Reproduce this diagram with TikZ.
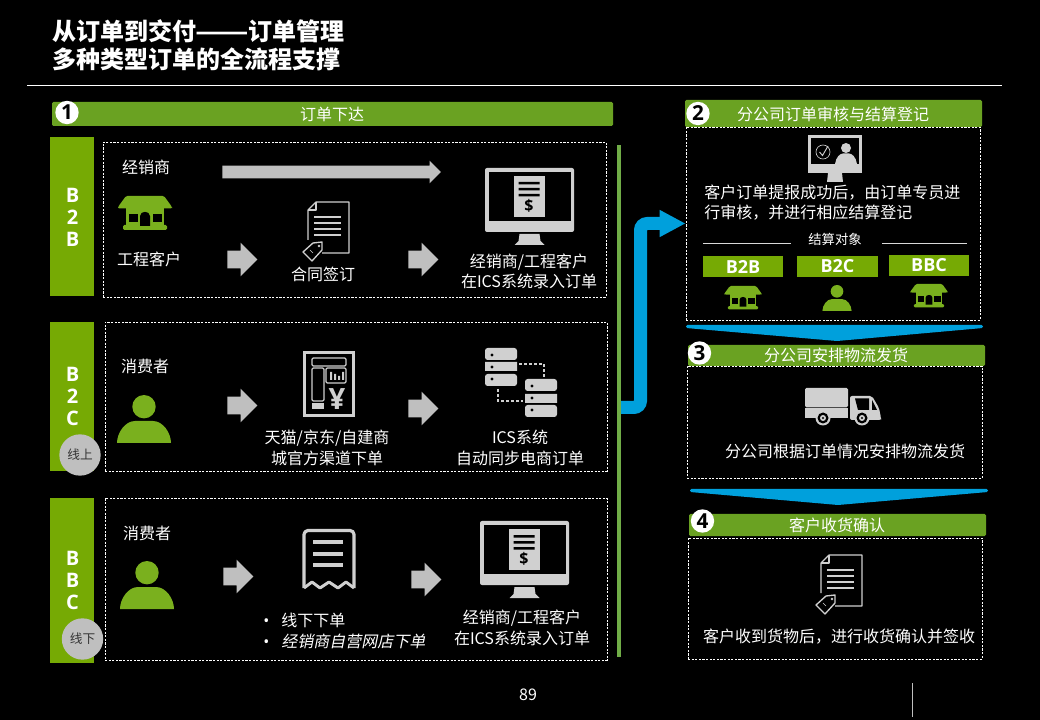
\documentclass[tikz,border=0pt]{standalone}
\usepackage{fontspec}
\setmainfont{Noto Sans CJK SC}
\newfontfamily\cjkit[FakeSlant=0.2]{Noto Sans CJK SC}
\newfontfamily\latbold{Open Sans}[BoldFont={* Bold}]
\usetikzlibrary{arrows.meta,shapes.arrows}
\definecolor{hdrgreen}{RGB}{106,162,34}
\definecolor{sidegreen}{RGB}{118,170,4}
\definecolor{icongreen}{RGB}{122,176,30}
\definecolor{railgreen}{RGB}{112,173,71}
\definecolor{flowblue}{RGB}{0,160,220}
\definecolor{arrgrey}{RGB}{191,191,191}
\definecolor{icongrey}{RGB}{208,208,208}
\newcommand\pbox[7]{%
  \pgfmathsetmacro\pcx{(#3+#5)/2}\pgfmathsetmacro\pcy{(#4+#6)/2}%
  \pgfmathsetmacro\pw{(#5-#3)*0.75}\pgfmathsetmacro\ph{(#6-#4)*0.75}%
  \node[#2,minimum width=\pw pt,minimum height=\ph pt] (#1) at (\pcx,\pcy) {#7};}
\newcommand\shaftrule[1]{\phantom{\rule{1pt}{#1}}}
\tikzset{
  x=0.75pt,y=-0.75pt,
  lbl/.style={text=white,inner sep=0pt,align=center,font=\fontsize{12}{15.4}\selectfont},
  lblsm/.style={lbl,font=\fontsize{10}{12}\selectfont},
  dbox/.style={draw=white,line width=0.6pt,dash pattern=on 1.6pt off 1.1pt,inner sep=0pt},
  hdr/.style={fill=hdrgreen,rounded corners=1pt,inner sep=0pt},
  side/.style={fill=sidegreen,inner sep=0pt},
  sidetxt/.style={text=white,inner sep=0pt,align=center,font=\latbold\bfseries\fontsize{15}{16.5}\selectfont},
  tagbox/.style={fill=sidegreen,inner sep=0pt,text=white,font=\latbold\bfseries\fontsize{13.5}{14}\selectfont},
  numdot/.style={circle,fill=white,text=black,inner sep=0pt,minimum size=17.5pt,font=\latbold\bfseries\fontsize{15.5}{16}\selectfont},
  chan/.style={circle,fill=arrgrey,text=black!80,inner sep=0pt,minimum size=31pt,font=\fontsize{9.5}{11}\selectfont},
  blockarr/.style={single arrow,fill=arrgrey,inner sep=0pt,single arrow head extend=6pt,single arrow tip angle=90,
    minimum height=22.5pt,anchor=tail},
  storeicon/.pic={
    \fill[icongreen,rounded corners=1pt] (-19,0) -- (19,0) -- (27,11) -- (27,12.5) -- (-27,12.5) -- (-27,11) -- cycle;
    \fill[icongreen] (-19,12) rectangle (19,30);
    \fill[icongreen,rounded corners=1pt] (-22,29) rectangle (22,34);
    \fill[black] (-16.3,18) rectangle (-7.3,26);
    \fill[black] (7.7,18) rectangle (16.7,26);
    \fill[black] (-5,30) -- (-5,20) .. controls (-5,14.5) and (5,14.5) .. (5,20) -- (5,30) -- cycle;
  },
  personicon/.pic={
    \fill[icongreen] (0,11.7) circle [radius=11.7];
    \fill[icongreen] (-27,48) .. controls (-27,38) and (-19,26) .. (-9,26) -- (9,26) .. controls (19,26) and (27,38) .. (27,48) -- cycle;
  },
  docicon/.pic={
    \draw[icongrey,line width=0.9pt,line join=round] (0,38) -- (0,8) -- (8,0) -- (41,0) -- (41,51) -- (14,51);
    \draw[icongrey,line width=0.9pt,line join=round] (8,0) -- (8,8) -- (0,8);
    \draw[icongrey,line width=0.9pt] (6,15) -- (33,15) (6,21) -- (33,21) (6,27) -- (33,27) (6,33) -- (33,33);
    \draw[icongrey,fill=black,line width=1pt,line join=round] (14,40) -- (14,48) -- (4,59) -- (-5,50) -- (5,41) -- cycle;
    \draw[icongrey,line width=0.5pt] (2,48) -- (5,51) (11,44) circle [radius=0.8];
  },
  monitoricon/.pic={
    \fill[icongrey,rounded corners=1.5pt] (-44.5,0) rectangle (44.5,64);
    \fill[black] (-41,4) rectangle (41,53);
    \fill[icongrey] (-16,8) rectangle (15,49);
    \fill[black] (-11,14) rectangle (10,16.5) (-11,20) rectangle (10,22.5) (-11,26) rectangle (10,28.5);
    \node[text=black,inner sep=0pt,font=\latbold\bfseries\fontsize{12}{12}\selectfont] (dollar) at (-0.5,38) {\$};
    \fill[icongrey] (-10,66) -- (10,66) -- (11,73) -- (15,77) -- (-15,77) -- (-11,73) -- cycle;
  },
}
\begin{document}
\begin{tikzpicture}
\fill[black] (0,0) rectangle (1040,720);
\useasboundingbox (0,0) rectangle (1040,720);

% title
\node[lbl,anchor=north west,align=left,font=\bfseries\fontsize{18}{21}\selectfont] (title) at (52,19.5) {从订单到交付\makebox[39pt]{\scalebox{1.3}[1]{——}}订单管理\\多种类型订单的全流程支撑};
\coordinate (ruleL) at (27,85);
\coordinate (ruleR) at (1002,85);
\draw[white,line width=0.55pt] (ruleL) -- (ruleR);

% section 1
\pbox{hdrone}{hdr}{52}{102}{613}{126}{}
\node[lbl] (hdronet) at (332,114) {订单下达};
\node[numdot] (numone) at (67,112.5) {1};

\pbox{sideb2b}{side}{50}{137}{94}{296}{}
\pbox{sideb2c}{side}{50}{322}{94}{471}{}
\pbox{sidebbc}{side}{50}{498}{94}{663}{}
\node[sidetxt] (sa) at (72.5,217) {B\\2\\B};
\node[sidetxt] (sb) at (72.5,396) {B\\2\\C};
\node[sidetxt] (sc) at (72.5,580) {B\\B\\C};
\node[chan] (online) at (80,455) {线上};
\node[chan] (offline) at (82.5,639) {线下};

\pbox{boxb2b}{dbox}{103}{142}{606}{297}{}
\pbox{boxb2c}{dbox}{105}{322}{607}{471}{}
\pbox{boxbbc}{dbox}{105}{498}{607}{660}{}

% B2B row
\node[lbl] (ta) at (146,167) {经销商};
\pic at (145,196) {storeicon};
\node[lbl] (tb) at (149,259) {工程客户};
\node[blockarr,minimum height=164pt,single arrow head extend=3.75pt] (along) at (222,172) {\shaftrule{9pt}};
\node[blockarr] (a1) at (227,259.5) {\shaftrule{12.75pt}};
\pic at (308,202) {docicon};
\node[lbl] (tc) at (323,274) {合同签订};
\node[blockarr] (a2) at (408,259.5) {\shaftrule{12.75pt}};
\pic at (529.5,168) {monitoricon};
\node[lbl] (td) at (529,271.5) {经销商/工程客户\\在ICS系统录入订单};

% B2C row
\node[lbl] (te) at (145,366) {消费者};
\pic at (144,395) {personicon};
\node[blockarr] (a3) at (227,405.5) {\shaftrule{12.75pt}};
% mall icon
\fill[icongrey] (303,351) rectangle (355,417);
\fill[black] (306,354) rectangle (352,414);
\draw[icongrey,line width=0.9pt,rounded corners=1pt] (312,358) rectangle (346,366);
\draw[icongrey,line width=0.9pt,rounded corners=1pt] (312,368) rectangle (324,401);
\fill[icongrey] (312,403) rectangle (324,409);
\draw[icongrey,line width=0.9pt,rounded corners=1pt] (326,368) rectangle (346,383);
\fill[icongrey] (330,372) rectangle (332,380) (334,374) rectangle (336,380) (338,376) rectangle (340,380) (342,372) rectangle (344,380);
\node[text=icongrey,inner sep=0pt,font=\latbold\bfseries\fontsize{22}{22}\selectfont] (yen) at (337,399) {¥};
\node[lbl] (tf) at (327,448) {天猫/京东/自建商\\城官方渠道下单};
\node[blockarr] (a4) at (408,408.5) {\shaftrule{12.75pt}};
% server icon
\fill[icongrey,rounded corners=2pt] (485,348) rectangle (517,360) (485,374) rectangle (517,386) (525,379) rectangle (557,391) (525,405) rectangle (557,417);
\fill[icongrey] (485,362) rectangle (517,371) (525,394) rectangle (557,403);
\fill[black] (492,355) circle [radius=1.6] (492,367) circle [radius=1.6] (492,379) circle [radius=1.6] (532,386) circle [radius=1.6] (532,398) circle [radius=1.6] (532,410) circle [radius=1.6];
\draw[icongrey,line width=2pt,dash pattern=on 2.1pt off 1.7pt] (519,364) -- (544,364) -- (544,377) (498,389) -- (498,401) -- (523,401);
\node[lbl] (tg) at (520,448) {ICS系统\\自动同步电商订单};

% BBC row
\node[lbl] (th) at (147,533) {消费者};
\pic at (147,561) {personicon};
\node[blockarr] (a5) at (223,576.5) {\shaftrule{12.75pt}};
% receipt icon
\draw[icongrey,line width=2.4pt,line join=round,rounded corners=3pt] (304,588) -- (304,530.5) -- (354,530.5) -- (354,588);
\draw[icongrey,line width=2.2pt,line join=round] (304,588) -- (312,582) -- (320,588) -- (329,582) -- (338,588) -- (346,582) -- (354,588);
\draw[icongrey,line width=2.4pt] (313,542) -- (343,542) (313,554) -- (343,554) (313,565) -- (343,565);
\node[lbl,anchor=west,align=left] (ti) at (263,631) {\makebox[13.5pt][l]{\latbold •}线下下单\\\makebox[13.5pt][l]{\latbold •}{\cjkit 经销商自营网店下单}};
\node[blockarr] (a6) at (411,579.5) {\shaftrule{12.75pt}};
\pic at (524.5,521) {monitoricon};
\node[lbl] (tj) at (522,628) {经销商/工程客户\\在ICS系统录入订单};

% rail
\pbox{rail}{fill=railgreen,inner sep=0pt}{617.3}{145}{621}{657}{}

% section 2
\pbox{boxtwo}{dbox}{686}{127}{980}{320}{}
\pbox{hdrtwo}{hdr}{685}{100}{982}{127}{}
\node[numdot] (numtwo) at (698,113.5) {2};
\node[lbl] (hdrtwot) at (833,114) {分公司订单审核与结算登记};
% review monitor
\fill[icongrey] (808,135) rectangle (862,173);
\fill[black] (811,138) rectangle (859,164);
\fill[icongrey] (828,173) -- (842,173) -- (843,182) -- (827,182) -- cycle;
\draw[icongrey,line width=0.5pt] (823,152) circle [radius=7];
\draw[icongrey,line width=0.7pt] (819.5,152) -- (822.5,155.5) -- (828,146);
\fill[icongrey] (846,148) circle [radius=5];
\fill[icongrey] (835,164) .. controls (836,157) and (840,153.5) .. (843,153.5) -- (849,153.5) .. controls (852,153.5) and (856,157) .. (857,164) -- cycle;
\node[lbl,anchor=west,align=left,font=\fontsize{12}{15}\selectfont] (tk) at (704,202.5) {客户订单提报成功后，由订单专员进\\行审核，并进行相应结算登记};
\node[lblsm] (tl) at (835,239) {结算对象};
\coordinate (la) at (703,243);\coordinate (lb) at (791,243);
\coordinate (lc) at (882,243);\coordinate (ld) at (967,243);
\draw[white!85!black,line width=0.5pt] (la) -- (lb) (lc) -- (ld);
\pbox{tagone}{tagbox}{703}{256}{783}{277}{B2B}
\pbox{tagtwo}{tagbox}{797}{256}{878}{277}{B2C}
\pbox{tagthree}{tagbox}{889}{255}{969}{276}{BBC}
\pic[scale=0.69] at (743,286) {storeicon};
\pic[scale=0.54] at (837,285) {personicon};
\pic[scale=0.69] at (929,284) {storeicon};

% blue elbow
\coordinate (elbowstart) at (621,407.5);
\coordinate (elbowmid) at (640.5,300);
\draw[flowblue,line width=9.75pt,rounded corners=5pt,-{Triangle[length=19.5pt,width=19pt]}]
  (elbowstart) -- (elbowstart -| elbowmid) -- (elbowmid |- boxtwo.west) -- (boxtwo.west);

% chevrons
\fill[flowblue,rounded corners=1pt] (686,325) -- (983,325) -- (983,328) -- (837,341) -- (686,328) -- cycle;
\fill[flowblue,rounded corners=1pt] (690,489) -- (988,489) -- (988,492) -- (838,505) -- (690,492) -- cycle;

% section 3
\pbox{boxthree}{dbox}{687}{366}{982}{478}{}
\pbox{hdrthree}{hdr}{688}{345}{985}{366}{}
\node[numdot] (numthree) at (699.5,353) {3};
\node[lbl] (hdrthreet) at (836,355) {分公司安排物流发货};
% truck
\fill[icongrey,rounded corners=1pt] (805,388) rectangle (848,407.3);
\fill[icongrey] (805,408.3) rectangle (848,418);
\fill[icongrey,rounded corners=1.5pt] (850,396) -- (872,396) -- (879,408) -- (881,418) -- (881,420) -- (850,420) -- cycle;
\fill[black] (855,398.5) -- (869,398.5) -- (869,410) -- (858,410) -- cycle;
\fill[black] (872,400) -- (877,410) -- (872,410) -- cycle;
\fill[icongrey] (823,418) circle [radius=7.5];
\fill[black] (823,418) circle [radius=5.5];
\fill[icongrey] (823,418) circle [radius=3];
\fill[black] (823,418) circle [radius=1.2];
\fill[icongrey] (862,418) circle [radius=7.5];
\fill[black] (862,418) circle [radius=5.5];
\fill[icongrey] (862,418) circle [radius=3];
\fill[black] (862,418) circle [radius=1.2];
\node[lbl] (tm) at (845,451) {分公司根据订单情况安排物流发货};

% section 4
\pbox{hdrfour}{hdr}{689}{514}{986}{536}{}
\node[numdot] (numfour) at (702.5,521) {4};
\node[lbl] (hdrfourt) at (837,525) {客户收货确认};
\pbox{boxfour}{dbox}{688}{538}{982}{659}{}
\pic at (821,555) {docicon};
\node[lbl] (tn) at (839,637) {客户收到货物后，进行收货确认并签收};

% footer
\node[lbl] (page) at (528,695) {89};
\coordinate (va) at (912,683);\coordinate (vb) at (912,717);
\draw[white!75!black,line width=0.5pt] (va) -- (vb);
\end{tikzpicture}
\end{document}
